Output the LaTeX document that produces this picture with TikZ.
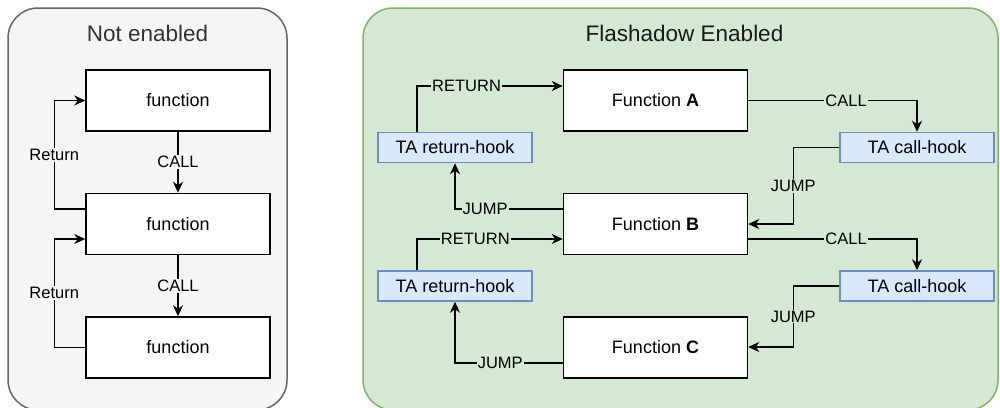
\documentclass[tikz,border=0pt]{standalone}
\usepackage{fontspec}
\setmainfont{Liberation Sans}
\usetikzlibrary{arrows.meta}
\definecolor{lpfill}{HTML}{F5F5F5}
\definecolor{lpdraw}{HTML}{666666}
\definecolor{rpfill}{HTML}{D5E8D4}
\definecolor{rpdraw}{HTML}{82B366}
\definecolor{hkfill}{HTML}{DAE8FC}
\definecolor{hkdraw}{HTML}{6C8EBF}
\definecolor{ttl}{HTML}{333333}
\begin{document}
\begin{tikzpicture}[x=1pt,y=-1pt,
 fbox/.style={draw=black,fill=white,line width=1.5pt,minimum width=184pt,minimum height=61pt,inner sep=0pt,font=\fontsize{18}{21}\selectfont},
 hook/.style={draw=hkdraw,fill=hkfill,line width=1.5pt,minimum width=154pt,minimum height=30pt,inner sep=0pt,font=\fontsize{18}{21}\selectfont},
 conn/.style={line width=1.5pt,-{Stealth[length=11pt,width=10pt,inset=3.5pt]}},
 lbl/.style={inner sep=1pt,font=\fontsize{16.5}{19}\selectfont},
 ttlnode/.style={inner sep=0pt,font=\fontsize{22.5}{27}\selectfont},
 ]
\useasboundingbox (0,0) rectangle (1000,407);
\begin{scope}
\clip (0,0) rectangle (1000,407);
\draw[fill=lpfill,draw=lpdraw,line width=1.5pt,rounded corners=30pt] (8,8) rectangle (287,410);
\draw[fill=rpfill,draw=rpdraw,line width=1.5pt,rounded corners=30pt] (363,8) rectangle (998,410);
\end{scope}

\node[ttlnode,text=ttl] (t1) at (147.5,33) {Not enabled};
\node[ttlnode,text=black!90] (t2) at (684.5,33) {Flashadow Enabled};

% left panel
\node[fbox] (f1) at (178,100.5) {function};
\node[fbox] (f2) at (178,224) {function};
\node[fbox] (f3) at (178,347.5) {function};

\draw[conn] (f1.south) -- node[lbl,fill=lpfill]{CALL} (f2.north);
\draw[conn] (f2.south) -- node[lbl,fill=lpfill]{CALL} (f3.north);
\draw[conn] ([yshift=15pt]f2.west) -- ++(-31,0) |- node[lbl,fill=lpfill,pos=0.25]{Return} (f1.west);
\draw[conn] (f3.west) -- ++(-31,0) |- node[lbl,fill=lpfill,pos=0.25]{Return} ([yshift=-15pt]f2.west);

% right panel
\node[fbox] (A) at (655.5,100.5) {Function \textbf{A}};
\node[fbox] (B) at (655.5,224) {Function \textbf{B}};
\node[fbox] (C) at (655.5,347.5) {Function \textbf{C}};
\node[hook] (rh1) at (455,147.5) {TA return-hook};
\node[hook] (rh2) at (455,286) {TA return-hook};
\node[hook] (ch1) at (917,147.5) {TA call-hook};
\node[hook] (ch2) at (917,286) {TA call-hook};

\draw[conn] ([xshift=-38pt]rh1.north) |- node[lbl,fill=rpfill,pos=0.67]{RETURN} ([yshift=14.5pt]A.west);
\draw[conn] ([yshift=15pt]B.west) -| node[lbl,fill=rpfill,pos=0.36]{JUMP} (rh1.south);
\draw[conn] ([xshift=-38pt]rh2.north) |- node[lbl,fill=rpfill,pos=0.70]{RETURN} ([yshift=-15pt]B.west);
\draw[conn] ([yshift=-15.5pt]C.west) -| node[lbl,fill=rpfill,pos=0.29]{JUMP} (rh2.south);

\draw[conn] (A.east) -| node[lbl,fill=rpfill,pos=0.29]{CALL} (ch1.north);
\draw[conn] ([yshift=-15pt]B.east) -| node[lbl,fill=rpfill,pos=0.29]{CALL} (ch2.north);
\draw[conn] (ch1.west) -- ++(-46,0) |- node[lbl,fill=rpfill,pos=0.25]{JUMP} (B.east);
\draw[conn] (ch2.west) -- ++(-46,0) |- node[lbl,fill=rpfill,pos=0.25]{JUMP} ([yshift=0.5pt]C.east);
\end{tikzpicture}
\end{document}
